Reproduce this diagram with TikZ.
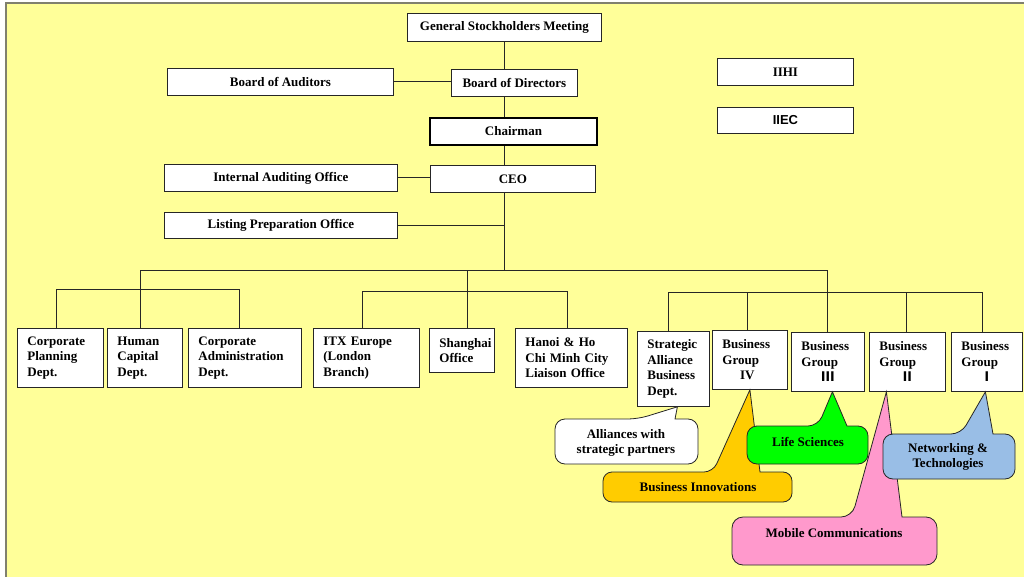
\documentclass[tikz,border=0pt]{standalone}
\usepackage{fontspec}
\setmainfont{Liberation Serif}
\newfontfamily\sanf{Liberation Sans}
\newfontfamily\cjkf{Noto Sans CJK JP}
\definecolor{bgY}{RGB}{255,255,153}
\definecolor{cOrange}{RGB}{255,204,0}
\definecolor{cGreen}{RGB}{0,255,0}
\definecolor{cPink}{RGB}{255,153,204}
\definecolor{cBlue}{RGB}{153,190,230}
\definecolor{frameC}{RGB}{128,128,110}
\newcommand\bxfont{\fontsize{13}{15.5}\selectfont\bfseries\hyphenpenalty=10000\exhyphenpenalty=10000}
\begin{document}
\begin{tikzpicture}[x=1pt,y=-1pt,
  cbox/.style={draw=black!85, fill=white, line width=0.8pt, font=\bxfont, inner sep=0pt, anchor=north west, align=center},
  lbox/.style={cbox, inner xsep=10pt, inner ysep=0pt, align=left},
  conn/.style={draw=black!85, line width=0.8pt},
  ctext/.style={font=\bxfont, align=center, inner sep=0pt},
  callout/.style={draw=black!85, line width=0.8pt}]
\useasboundingbox (0,0) rectangle (1024,577);
\fill[white] (0,0) rectangle (1024,577);
\fill[bgY] (6,3) rectangle (1024,577);
\draw[frameC, line width=2pt] (6,577) -- (6,3) -- (1024,3);

% top boxes
\node[cbox, minimum width=194pt, minimum height=28pt] (gsm) at (407,13) {General Stockholders Meeting};
\node[cbox, minimum width=226pt, minimum height=27pt] (boa) at (167,68) {Board of Auditors};
\node[cbox, minimum width=126pt, minimum height=27pt] (bod) at (451,69) {Board of Directors};
\node[cbox, minimum width=167pt, minimum height=27pt, line width=2pt, draw=black] (chair) at (429,117) {Chairman};
\node[cbox, minimum width=233pt, minimum height=27pt] (iao) at (164,164) {Internal Auditing Office};
\node[cbox, minimum width=165pt, minimum height=27pt] (ceo) at (430,165) {CEO};
\node[cbox, minimum width=233pt, minimum height=26pt] (lpo) at (164,212) {Listing Preparation Office};
\node[cbox, minimum width=136pt, minimum height=27pt] (iihi) at (717,58) {IIHI};
\node[cbox, minimum width=136pt, minimum height=26pt, font={\sanf\fontsize{13}{15}\selectfont\bfseries}] (iiec) at (717,107) {IIEC};

% lower boxes
\node[lbox, text width=66pt, minimum height=59pt] (cp) at (17,328) {Corporate\\Planning\\Dept.};
\node[lbox, text width=55pt, minimum height=59pt] (hc) at (107,328) {Human\\Capital\\Dept.};
\node[lbox, text width=93pt, minimum height=59pt] (ca) at (188,328) {Corporate\\Administration\\Dept.};
\node[lbox, text width=86pt, minimum height=59pt] (itx) at (313,328) {ITX Europe\\(London\\Branch)};
\node[lbox, text width=45pt, minimum height=44pt] (sh) at (429,328) {Shanghai\\Office};
\node[lbox, text width=92pt, minimum height=59pt] (hanoi) at (515,328) {Hanoi \& Ho\\Chi Minh City\\Liaison Office};
\node[lbox, text width=52pt, minimum height=75pt] (sa) at (637,331) {Strategic\\Alliance\\Business\\Dept.};
\node[lbox, text width=55pt, minimum height=59pt] (bg4) at (712,330) {Business\\Group\\\makebox[50pt]{IV}};
\node[lbox, text width=53pt, minimum height=59pt] (bg3) at (791,332) {Business\\Group\\\makebox[53pt]{\cjkf\bfseries Ⅲ}};
\node[lbox, text width=56pt, minimum height=59pt] (bg2) at (869,332) {Business\\Group\\\makebox[56pt]{\cjkf\bfseries Ⅱ}};
\node[lbox, text width=51pt, minimum height=59pt] (bg1) at (951,332) {Business\\Group\\\makebox[51pt]{\cjkf\bfseries Ⅰ}};

% junction coordinates
\coordinate (jL) at (140,270);
\coordinate (jR) at (827,270);
\coordinate (brA) at (0,289);
\coordinate (brB) at (0,291);
\coordinate (brC) at (0,292);

% connectors top
\draw[conn] (gsm.south) -- (gsm.south |- bod.north);
\draw[conn] (gsm.south |- bod.south) -- (gsm.south |- chair.north);
\draw[conn] (gsm.south |- chair.south) -- (gsm.south |- ceo.north);
\draw[conn] (gsm.south |- ceo.south) -- (gsm.south |- jL);
\draw[conn] (boa.east) -- (boa.east -| bod.west);
\draw[conn] (iao.east) -- (iao.east -| ceo.west);
\draw[conn] (lpo.east) -- (lpo.east -| gsm.south);

% main horizontal
\draw[conn] (hc.north -| jL) -- (jL) -- (jR) -- (jR |- bg3.north);
% left bracket
\draw[conn] ([xshift=-4pt]cp.north) -- ([xshift=-4pt]cp.north |- brA) -- ([xshift=-5.5pt]ca.north |- brA) -- ([xshift=-5.5pt]ca.north);
% middle
\draw[conn] ([xshift=5.5pt]sh.north) -- ([xshift=5.5pt]sh.north |- jL);
\draw[conn] ([xshift=-4pt]itx.north) -- ([xshift=-4pt]itx.north |- brB) -- ([xshift=-4pt]hanoi.north |- brB) -- ([xshift=-4pt]hanoi.north);
% right bracket
\draw[conn] ([xshift=-5pt]sa.north) -- ([xshift=-5pt]sa.north |- brC) -- ([xshift=-4.5pt]bg1.north |- brC) -- ([xshift=-4.5pt]bg1.north);
\draw[conn] ([xshift=-2.5pt]bg4.north) -- ([xshift=-2.5pt]bg4.north |- brC);
\draw[conn] ([xshift=-1pt]bg2.north) -- ([xshift=-1pt]bg2.north |- brC);

% callouts
\filldraw[callout, fill=white] ([xshift=4pt]sa.south) -- (675,419) [rounded corners=10pt] -- (698,419) -- (698,464) -- (555,464) -- (555,419) -- (638,419) [sharp corners] -- cycle;
\filldraw[callout, fill=cOrange] (bg4.south) -- (760,472) [rounded corners=9pt] -- (792,472) -- (792,502) -- (603,502) -- (603,472) -- (713,472) [sharp corners] -- cycle;
\filldraw[callout, fill=cGreen] ([xshift=4.5pt]bg3.south) -- (847,426) [rounded corners=10pt] -- (868,426) -- (868,464) -- (747,464) -- (747,426) -- (818,426) [sharp corners] -- cycle;
\filldraw[callout, fill=cPink] ([xshift=-21pt]bg2.south) -- (902,517) [rounded corners=11pt] -- (937,517) -- (937,565) -- (732,565) -- (732,517) -- (852,517) [sharp corners] -- cycle;
\filldraw[callout, fill=cBlue] ([xshift=-1.5pt]bg1.south) -- (993,434) [rounded corners=10pt] -- (1015,434) -- (1015,479) -- (883,479) -- (883,434) -- (961,434) [sharp corners] -- cycle;

\node[ctext] (talli) at (626,443) {Alliances with\\strategic partners};
\node[ctext] (tbi) at (698,487) {Business Innovations};
\node[ctext] (tls) at (808,442) {Life Sciences};
\node[ctext] (tmc) at (834,533) {Mobile Communications};
\node[ctext] (tnt) at (948,457) {Networking \&\\Technologies};
\end{tikzpicture}
\end{document}
